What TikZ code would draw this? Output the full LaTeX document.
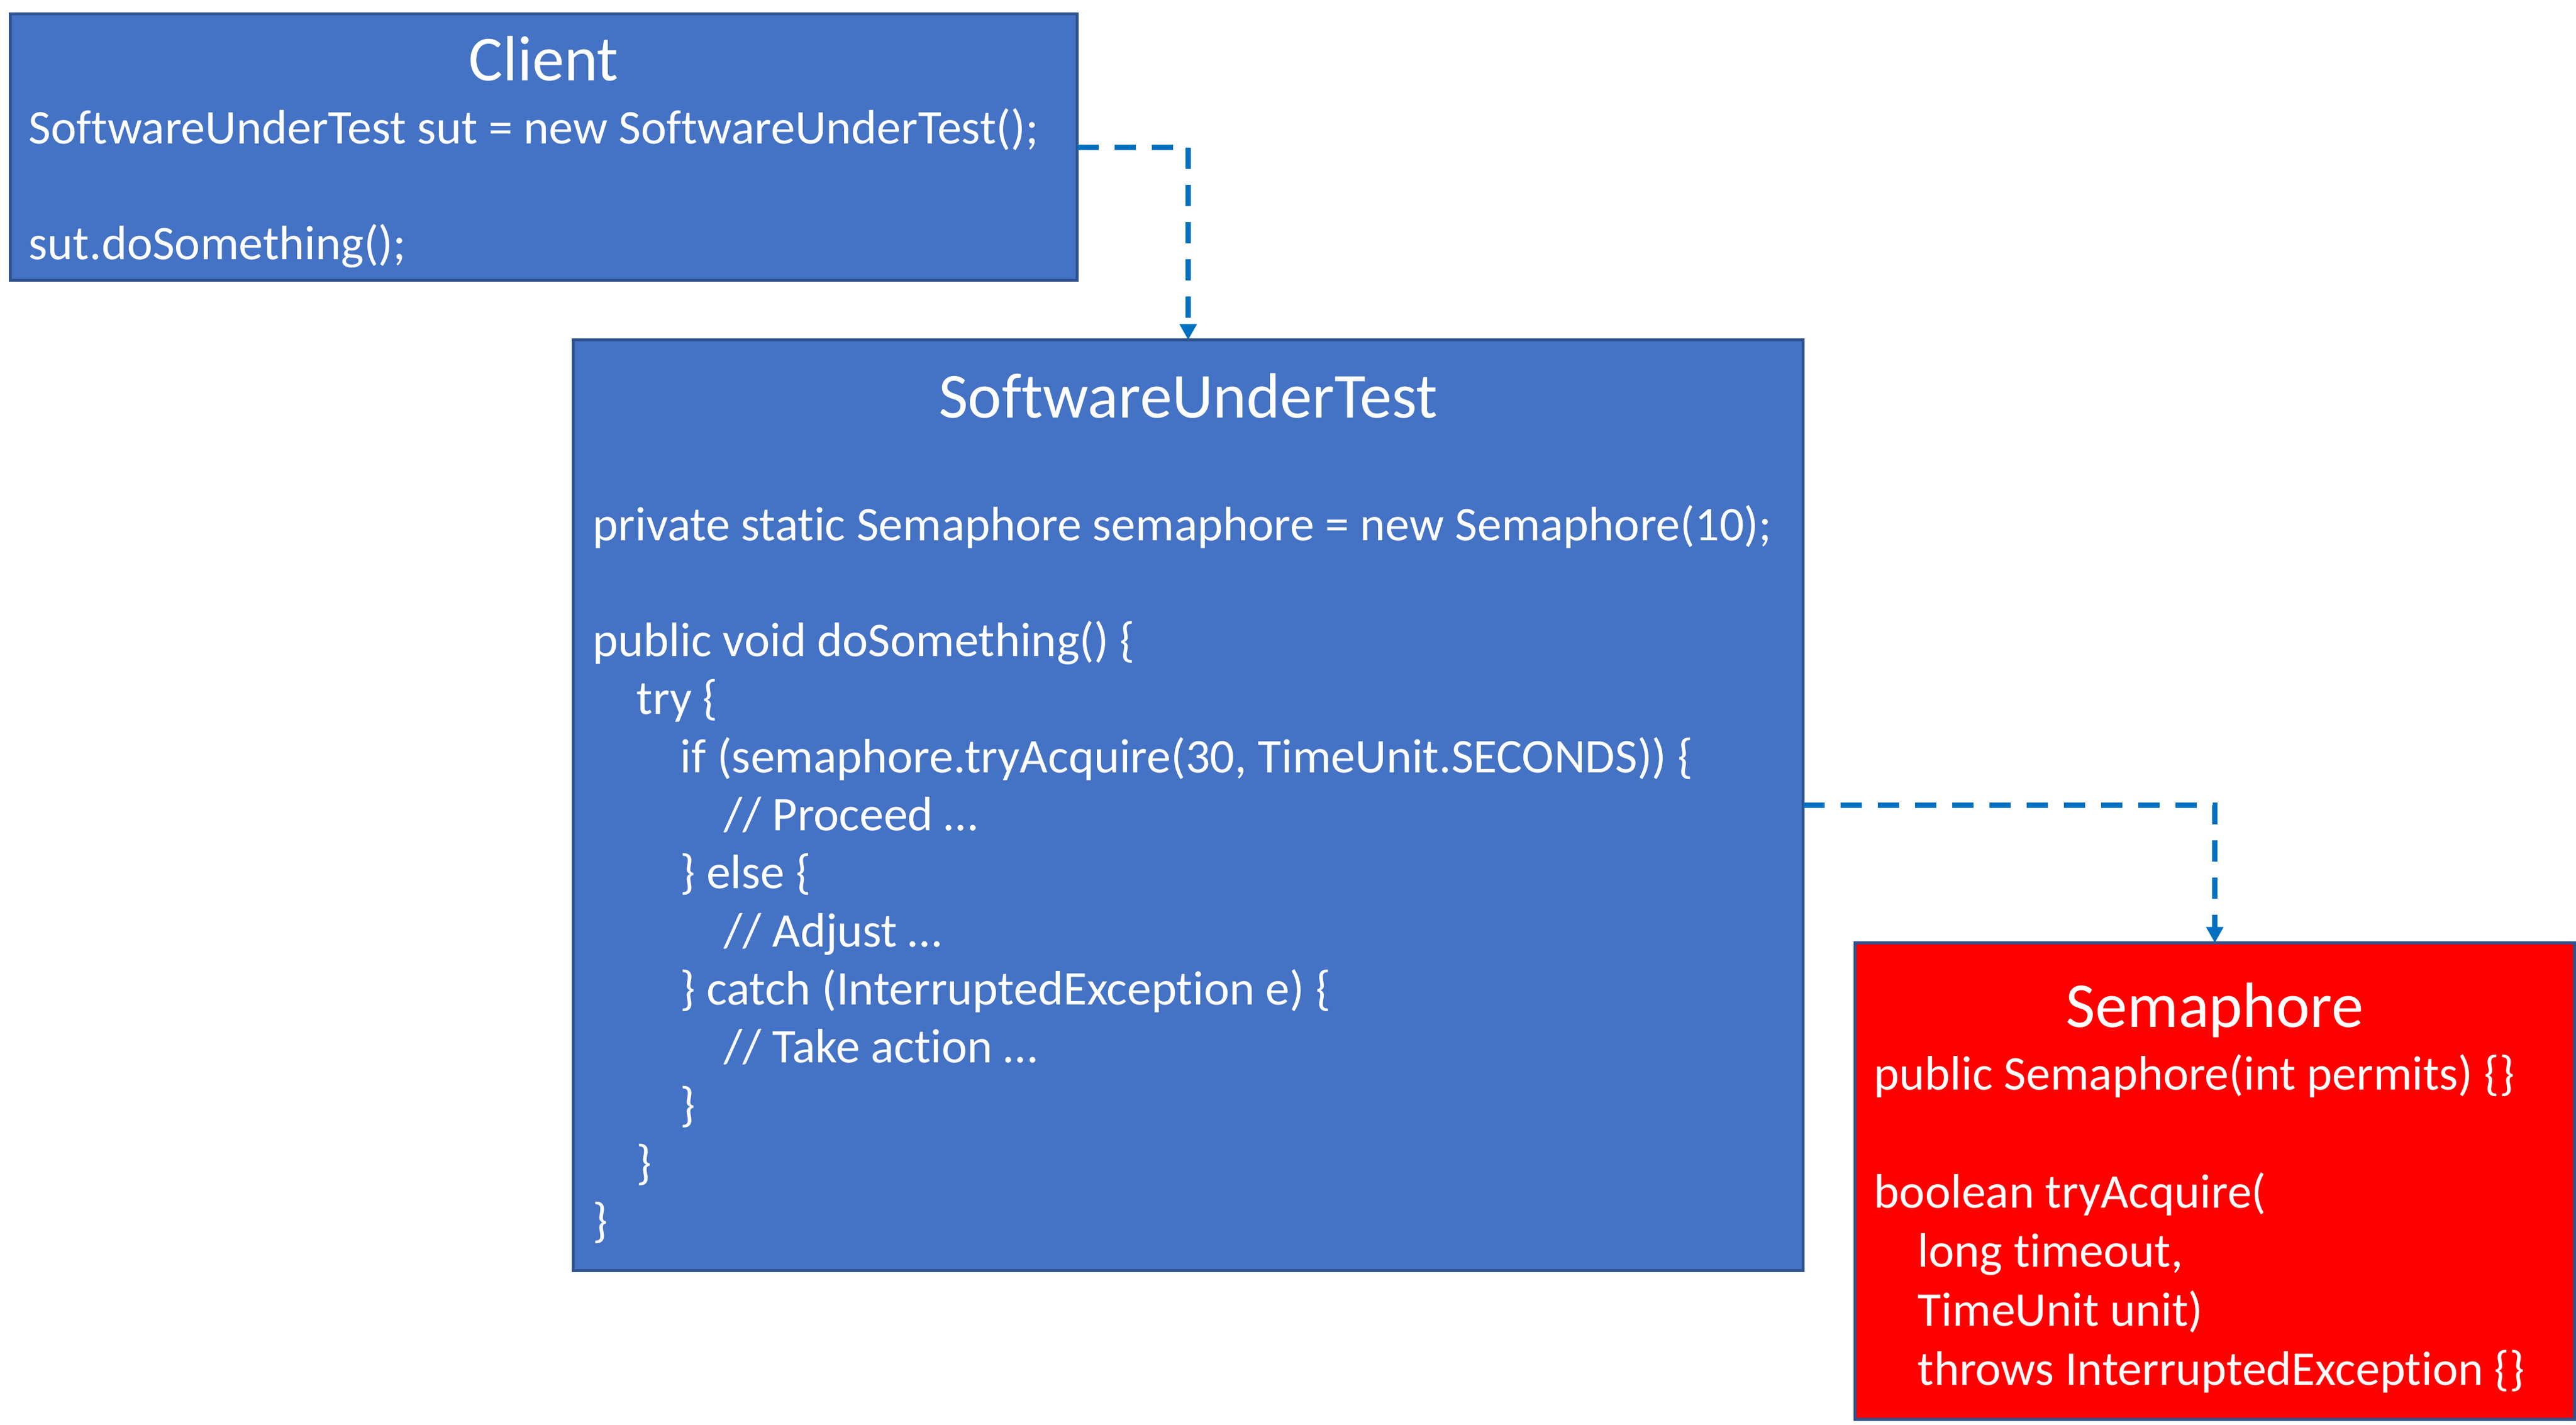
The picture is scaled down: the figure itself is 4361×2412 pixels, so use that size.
\documentclass[tikz,border=0pt]{standalone}
\usepackage{fontspec}
\setmainfont{Carlito}[Ligatures={NoCommon}]
\usetikzlibrary{arrows.meta}
\definecolor{boxblue}{HTML}{4472C4}
\definecolor{boxedge}{HTML}{2F528F}
\definecolor{connblue}{HTML}{0070C0}
\definecolor{boxred}{HTML}{FF0000}
\newcommand\ind{\hspace*{18.5pt}}
\tikzset{
  classbox/.style={rectangle, draw=boxedge, line width=1.25pt, inner sep=0pt, outer sep=0pt},
  titletext/.style={anchor=base, inner sep=0pt, text=white, font=\fontsize{27.1pt}{33pt}\selectfont},
  bodytext/.style={anchor=base west, inner sep=0pt, text=white, font=\fontsize{20.5pt}{24.6pt}\selectfont},
  conn/.style={draw=connblue, line width=2.25pt, dash pattern=on 9pt off 6.75pt, -{Triangle[length=6.75pt,width=7pt]}}
}
\begin{document}
\begin{tikzpicture}[x=0.25pt,y=-0.25pt]
\useasboundingbox (0,0) rectangle (4361,2412);
% boxes
\node[classbox, fill=boxblue, minimum width=451.5pt, minimum height=112.75pt] (client) at (920.5,249) {};
\node[classbox, fill=boxblue, minimum width=520.5pt, minimum height=394pt] (sut) at (2011.5,1363.5) {};
\node[classbox, fill=boxred, minimum width=304.5pt, minimum height=201.75pt] (sem) at (3749.5,2000) {};
% titles
\node[titletext] (clientTitle) at (920.5,136) {Client};
\node[titletext] (sutTitle) at (2011.5,707) {SoftwareUnderTest};
\node[titletext] (semTitle) at (3749.5,1739) {Semaphore};
% bodies
\node[bodytext] (clientBody) at (48,243) {\vtop{\baselineskip=24.6pt
  \hbox{SoftwareUnderTest sut = new SoftwareUnderTest();}
  \hbox{}
  \hbox{sut.doSomething();}}};
\node[bodytext] (sutBody) at (1003,915) {\vtop{\baselineskip=24.575pt
  \hbox{private static Semaphore semaphore = new Semaphore(10);}
  \hbox{}
  \hbox{public void doSomething() \{}
  \hbox{\ind try \{}
  \hbox{\ind\ind if (semaphore.tryAcquire(30, TimeUnit.SECONDS)) \{}
  \hbox{\ind\ind\ind // Proceed …}
  \hbox{\ind\ind \} else \{}
  \hbox{\ind\ind\ind // Adjust …}
  \hbox{\ind\ind \} catch (InterruptedException e) \{}
  \hbox{\ind\ind\ind // Take action …}
  \hbox{\ind\ind \}}
  \hbox{\ind \}}
  \hbox{\}}}};
\node[bodytext] (semBody) at (3172,1845) {\vtop{\baselineskip=25pt
  \hbox{public Semaphore(int permits) \{\}}
  \hbox{}
  \hbox{boolean tryAcquire(}
  \hbox{\ind long timeout,}
  \hbox{\ind TimeUnit unit)}
  \hbox{\ind throws InterruptedException \{\}}}};
% connectors
\draw[conn] (client.east) -| (sut.north);
\draw[conn] (sut.east) -| (sem.north);
\end{tikzpicture}
\end{document}
